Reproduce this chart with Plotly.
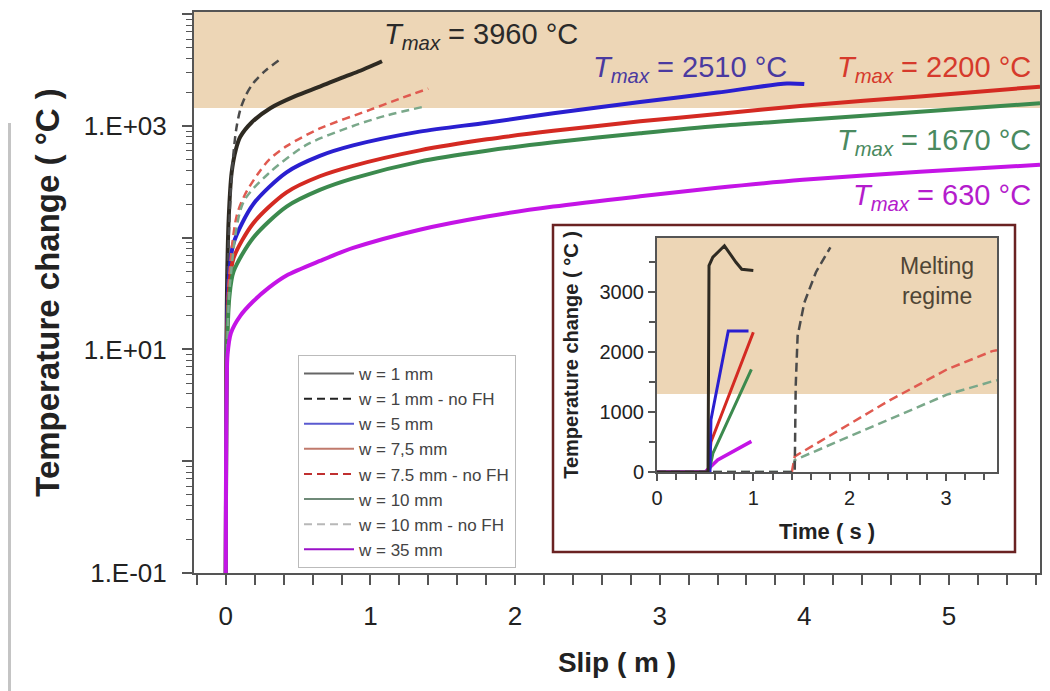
import plotly.graph_objects as go
import math

# ---------------- main chart data (slip in m, temperature change in °C) ----------------
slip_w1 = [0, 0.002, 0.005, 0.01, 0.02, 0.04, 0.07, 0.1, 0.18, 0.31, 0.48, 0.65, 0.8, 0.93, 1.03, 1.08]
temp_w1 = [0.1, 2, 13, 50, 150, 380, 620, 800, 1080, 1450, 1850, 2250, 2700, 3120, 3550, 3800]

slip_w1_nofh = [0, 0.003, 0.01, 0.02, 0.04, 0.07, 0.1, 0.14, 0.19, 0.27, 0.37]
temp_w1_nofh = [0.1, 5, 30, 100, 355, 900, 1400, 1900, 2420, 3100, 3900]

slip_w5 = [0, 0.003, 0.01, 0.025, 0.054, 0.19, 0.42, 0.65, 0.88, 1.34, 1.805, 2.265, 2.865, 3.4, 3.88, 4.0]
temp_w5 = [0.1, 4, 20, 50, 90, 200, 385, 540, 670, 890, 1070, 1300, 1640, 1990, 2400, 2370]

slip_w75 = [0, 0.003, 0.01, 0.025, 0.054, 0.19, 0.42, 0.65, 0.88, 1.34, 1.805, 2.265, 2.865, 3.4, 3.99, 4.8, 5.63]
temp_w75 = [0.1, 4, 15, 38, 66, 135, 255, 355, 440, 605, 760, 905, 1100, 1280, 1520, 1840, 2250]

slip_w75_nofh = [0, 0.005, 0.02, 0.074, 0.13, 0.22, 0.3, 0.42, 0.65, 1.0, 1.2, 1.40]
temp_w75_nofh = [0.1, 5, 40, 155, 240, 370, 500, 660, 950, 1400, 1750, 2160]

slip_w10 = [0, 0.003, 0.01, 0.025, 0.054, 0.19, 0.42, 0.65, 0.88, 1.34, 1.805, 2.265, 2.865, 3.4, 3.99, 4.8, 5.63]
temp_w10 = [0.1, 3, 12, 30, 50, 100, 190, 268, 340, 480, 600, 715, 860, 1000, 1130, 1340, 1600]

slip_w10_nofh = [0, 0.005, 0.03, 0.12, 0.30, 0.56, 0.88, 1.1, 1.38]
temp_w10_nofh = [0.1, 4, 40, 206, 380, 680, 1000, 1230, 1500]

slip_w35 = [0, 0.001, 0.003, 0.006, 0.012, 0.035, 0.1, 0.19, 0.3, 0.42, 0.65, 0.88, 1.34, 1.805, 2.265, 2.865, 3.4, 3.99, 4.8, 5.63]
temp_w35 = [0.1, 0.5, 2, 5, 9, 14, 20, 27, 36, 46, 62, 81, 118, 155, 190, 235, 280, 330, 390, 450]

melting_main = 1450          # lower edge of the "melting regime" band, main chart
x_range_main = [-0.22, 5.63]
y_range_main_log = [-1, 4.02]
x_ticks_main = [0, 1, 2, 3, 4, 5]
y_tick_vals = [0.1, 1, 10, 100, 1000, 10000]
y_tick_text = ["1.E-01", "", "1.E+01", "", "1.E+03", ""]

# ---------------- inset data (time in s, temperature change in °C) ----------------
t_in_w1 = [0.0, 0.53, 0.54, 0.58, 0.70, 0.82, 0.88, 1.0]
T_in_w1 = [0, 0, 3440, 3580, 3770, 3495, 3380, 3360]
t_in_w1_nofh = [0.0, 1.43, 1.44, 1.46, 1.53, 1.65, 1.80]
T_in_w1_nofh = [0, 0, 1430, 2270, 2825, 3330, 3745]
t_in_w5 = [0.55, 0.56, 0.74, 0.95]
T_in_w5 = [0, 870, 2350, 2350]
t_in_w75 = [0.53, 0.56, 1.0]
T_in_w75 = [0, 500, 2330]
t_in_w75_nofh = [1.40, 1.43, 2.4, 3.01, 3.48, 3.53]
T_in_w75_nofh = [0, 260, 1180, 1710, 2015, 2030]
t_in_w10 = [0.54, 0.58, 0.98]
T_in_w10 = [0, 310, 1710]
t_in_w10_nofh = [0.0, 1.40, 1.43, 2.4, 3.01, 3.48, 3.53]
T_in_w10_nofh = [0, 0, 200, 870, 1290, 1510, 1530]
t_in_w35 = [0.0, 0.5, 0.63, 0.98]
T_in_w35 = [0, 0, 200, 510]

melting_inset = 1300
x_range_inset = [0, 3.53]
y_range_inset = [0, 3900]

# ---------------- colours ----------------
C_BLACK = "#2e2a22"
C_BLACK_D = "#4a4a4a"
C_BLUE = "#2a1fd0"
C_RED = "#d42a22"
C_RED_D = "#e05a50"
C_GREEN = "#3c8a4e"
C_GREEN_D = "#7aa88a"
C_MAG = "#c414e6"
C_BAND = "#EDD6B6"
AX = "#555555"
FONT = "Liberation Sans, Arial, sans-serif"

# legend samples in the reference are thin and a little paler
legend_style = [
    ("w = 1 mm", "#666666", "solid"),
    ("w = 1 mm - no FH", "#222222", "8px,5px"),
    ("w = 5 mm", "#5a5ad0", "solid"),
    ("w = 7,5 mm", "#c07a6c", "solid"),
    ("w = 7.5 mm - no FH", "#c03030", "8px,5px"),
    ("w = 10 mm", "#6f8a78", "solid"),
    ("w = 10 mm - no FH", "#b8b8b8", "8px,5px"),
    ("w = 35 mm", "#9a10c8", "solid"),
]

# the page body has an 8px margin: figure is drawn at (8, 8) in the screenshot
OFF = 8
W, H = 1050 - OFF, 691 - OFF
L, R, T, B = 194 - OFF, 10, 12 - OFF, 118
PW, PH = W - L - R, H - T - B


def px(xp):
    """screen x -> paper fraction"""
    return (xp - OFF - L) / PW


def py(yp):
    """screen y -> paper fraction"""
    return (H - B - (yp - OFF)) / PH


fig = go.Figure()

main_series = [
    (slip_w1, temp_w1, C_BLACK, 4, "solid"),
    (slip_w1_nofh, temp_w1_nofh, C_BLACK_D, 2.5, "8px,5px"),
    (slip_w5, temp_w5, C_BLUE, 4, "solid"),
    (slip_w75, temp_w75, C_RED, 4, "solid"),
    (slip_w75_nofh, temp_w75_nofh, C_RED_D, 2.5, "8px,5px"),
    (slip_w10, temp_w10, C_GREEN, 4, "solid"),
    (slip_w10_nofh, temp_w10_nofh, C_GREEN_D, 2.5, "8px,5px"),
    (slip_w35, temp_w35, C_MAG, 4, "solid"),
]
for (xs, ys, col, lw, dash), (name, lcol, ldash) in zip(main_series, legend_style):
    fig.add_trace(go.Scatter(x=xs, y=ys, mode="lines", name=name, legendgroup=name,
                             line=dict(color=col, width=lw, dash=dash, shape="spline", smoothing=0.8),
                             xaxis="x", yaxis="y", showlegend=False))
    # legend-only entry (no data) so the legend sample can be thin like the reference
    fig.add_trace(go.Scatter(x=[None], y=[None], mode="lines", name=name, legendgroup=name,
                             line=dict(color=lcol, width=2, dash=ldash),
                             xaxis="x", yaxis="y", showlegend=True, hoverinfo="skip"))

inset_series = [
    (t_in_w35, T_in_w35, C_MAG, 3.5, "solid"),
    (t_in_w10_nofh, T_in_w10_nofh, C_GREEN_D, 2.5, "9px,5px"),
    (t_in_w75_nofh, T_in_w75_nofh, C_RED_D, 2.5, "9px,5px"),
    (t_in_w1_nofh, T_in_w1_nofh, C_BLACK_D, 2.5, "9px,5px"),
    (t_in_w10, T_in_w10, C_GREEN, 3, "solid"),
    (t_in_w75, T_in_w75, C_RED, 3, "solid"),
    (t_in_w5, T_in_w5, C_BLUE, 3, "solid"),
    (t_in_w1, T_in_w1, C_BLACK, 3, "solid"),
]
for xs, ys, col, lw, dash in inset_series:
    fig.add_trace(go.Scatter(x=xs, y=ys, mode="lines", showlegend=False,
                             line=dict(color=col, width=lw, dash=dash),
                             xaxis="x2", yaxis="y2", hoverinfo="skip"))

band_frac = (math.log10(melting_main) - y_range_main_log[0]) / (y_range_main_log[1] - y_range_main_log[0])

shapes = [
    dict(type="rect", xref="paper", yref="paper", x0=px(0), x1=px(11), y0=py(700), y1=py(123),
         fillcolor="#c4c4c4", line=dict(width=0), layer="below"),
    dict(type="rect", xref="x domain", yref="y domain", x0=0, x1=1, y0=band_frac, y1=1,
         fillcolor=C_BAND, line=dict(width=0), layer="below"),
    dict(type="rect", xref="paper", yref="paper", x0=px(553), x1=px(1015), y0=py(552), y1=py(225),
         fillcolor="white", line=dict(color="#6a2222", width=2.5), layer="below"),
    dict(type="rect", xref="x2 domain", yref="y2", x0=0, x1=1, y0=melting_inset, y1=y_range_inset[1],
         fillcolor=C_BAND, line=dict(width=0), layer="below"),
]

ann = []


def tmax(text, color, xr, ymid):
    ann.append(dict(xref="paper", yref="paper", x=px(xr), y=py(ymid), xanchor="right", yanchor="middle",
                    text="<i>T</i><sub><i>max</i></sub> = " + text, showarrow=False,
                    font=dict(family=FONT, size=29, color=color)))


tmax("3960 °C", "#2a2a2a", 580, 36)
tmax("2510 °C", "#4a3aa0", 789, 69)
tmax("2200 °C", "#d63a2c", 1033, 69)
tmax("1670 °C", "#4a8a60", 1033, 142)
tmax("630 °C", "#b41ccc", 1033, 197)

ann.append(dict(xref="paper", yref="paper", x=px(937), y=py(281), xanchor="center", yanchor="middle",
                text="Melting<br>regime", showarrow=False, align="center",
                font=dict(family=FONT, size=23, color="#4f4535")))

fig.update_layout(
    width=W, height=H,
    margin=dict(l=L, r=R, t=T, b=B, autoexpand=False),
    paper_bgcolor="white", plot_bgcolor="rgba(0,0,0,0)",
    font=dict(family=FONT, color="#222"),
    shapes=shapes, annotations=ann,
    legend=dict(x=px(298), y=py(355), xanchor="left", yanchor="top",
                bgcolor="white", bordercolor="#bbbbbb", borderwidth=1,
                font=dict(family=FONT, size=17, color="#444"),
                itemwidth=50, tracegroupgap=0),
    xaxis=dict(domain=[0, 1], range=x_range_main, tickvals=x_ticks_main,
               ticks="outside", ticklen=10, tickwidth=2, tickcolor=AX,
               showline=True, linecolor=AX, linewidth=2, mirror=True,
               showgrid=False, zeroline=False, automargin=False,
               tickfont=dict(size=26, color="#222"), ticklabelstandoff=9,
               minor=dict(ticks="outside", dtick=0.2, tick0=0, ticklen=10, tickwidth=1.5, tickcolor=AX),
               title=dict(text="Slip ( m )", standoff=22,
                          font=dict(size=28, weight="bold", color="#222"))),
    yaxis=dict(domain=[0, 1], type="log", range=y_range_main_log,
               tickmode="array", tickvals=y_tick_vals, ticktext=y_tick_text,
               ticks="outside", ticklen=10, tickwidth=2, tickcolor=AX,
               showline=True, linecolor=AX, linewidth=2, mirror=True,
               showgrid=False, zeroline=False, automargin=False,
               tickfont=dict(size=26, color="#222"), ticklabelstandoff=10,
               minor=dict(ticks="outside", dtick="D1", ticklen=6, tickwidth=1.2, tickcolor=AX),
               title=dict(text="Temperature change ( °C )", standoff=14,
                          font=dict(size=33, weight="bold", color="#222"))),
    xaxis2=dict(domain=[px(657), px(997)], anchor="y2", range=x_range_inset,
                tickvals=[0, 1, 2, 3], ticks="outside", ticklen=7, tickwidth=2, tickcolor=AX,
                showline=True, linecolor=AX, linewidth=2, mirror=True,
                showgrid=False, zeroline=False, automargin=False,
                tickfont=dict(size=20, color="#222"),
                minor=dict(ticks="outside", dtick=0.2, tick0=0, ticklen=6, tickwidth=1.5, tickcolor=AX),
                title=dict(text="Time ( s )", standoff=16,
                           font=dict(size=22, weight="bold", color="#222"))),
    yaxis2=dict(domain=[py(472), py(238)], anchor="x2", range=y_range_inset,
                tickvals=[0, 1000, 2000, 3000], ticks="outside", ticklen=7, tickwidth=2, tickcolor=AX,
                showline=True, linecolor=AX, linewidth=2, mirror=True,
                showgrid=False, zeroline=False, automargin=False,
                tickfont=dict(size=20, color="#222"),
                minor=dict(ticks="outside", dtick=500, tick0=0, ticklen=6, tickwidth=1.5, tickcolor=AX),
                title=dict(text="Temperature change ( °C )", standoff=16,
                           font=dict(size=20, weight="bold", color="#222"))),
)

fig.write_html("out.html")
